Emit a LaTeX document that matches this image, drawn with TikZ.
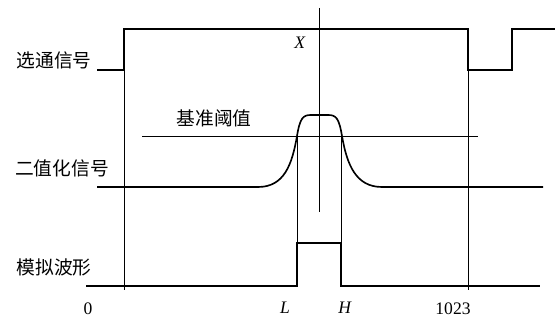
\documentclass[tikz,border=0pt]{standalone}
\usepackage{fontspec}
\setmainfont{Liberation Serif}
\newfontfamily\cjk{Noto Sans CJK SC}
\usetikzlibrary{positioning}

\begin{document}
\begin{tikzpicture}[
    x=0.03cm, y=-0.03cm,
    sig/.style={line width=1.6pt, line join=miter},
    guide/.style={line width=0.6pt},
    siglabel/.style={font=\cjk\fontsize{16}{18}\selectfont, inner sep=0pt},
    tick/.style={font=\fontsize{15}{17}\selectfont, inner sep=0pt}
]
\useasboundingbox (0,0) rectangle (557,320);
% labels on the left
\node[siglabel] (strobe) at (54,60) {选通信号};
\node[siglabel] (binary) at (62,168) {二值化信号};
\node[siglabel] (analog) at (54,267) {模拟波形};
\node[siglabel] (thrtext) at (214,118) {基准阈值};
% strobe signal
\coordinate (s0) at (97,70);
\coordinate (s1) at (124,29);
\coordinate (s2) at (468,70);
\coordinate (s3) at (512,29);
\draw[sig] (s0) -| (s1) -- (s1 -| s2) |- (s2) -| (s3) -- (555,29);
% guide lines
\coordinate (zero) at (124,290);
\coordinate (full) at (468,290);
\draw[guide] (s1) -- (zero);
\draw[guide] (s2) -- (full);
\coordinate (xtop) at (319,8);
\coordinate (xbot) at (319,212);
\draw[guide] (xtop) -- (xbot);
\coordinate (thrL) at (142,136);
\coordinate (thrR) at (478,136);
\draw[guide] (thrL) -- (thrR);
% binarised signal
\draw[sig, line width=1.4pt] (97,187) -- (258,187)
    .. controls (284,187) and (292,165) .. (297,136)
    .. controls (300,118) and (303,115) .. (311,115) -- (328,115)
    .. controls (336,115) and (339,118) .. (342,136)
    .. controls (347,165) and (356,187) .. (382,187) -- (543,187);
% analog waveform
\coordinate (lo) at (297,243);
\coordinate (hi) at (341,243);
\draw[sig] (86,286) -| (lo) -- (hi) |- (540,286);
\draw[guide] (lo) -- (lo |- thrL);
\draw[guide] (hi) -- (hi |- thrL);
% axis marks
\node[tick] (xlab) at (300,43) {\textit{X}};
\node[tick] (zlab) at (88,309) {0};
\node[tick] (llab) at (285,308) {\textit{L}};
\node[tick] (hlab) at (345,308) {\textit{H}};
\node[tick] (flab) at (453,309) {1023};
\end{tikzpicture}
\end{document}
